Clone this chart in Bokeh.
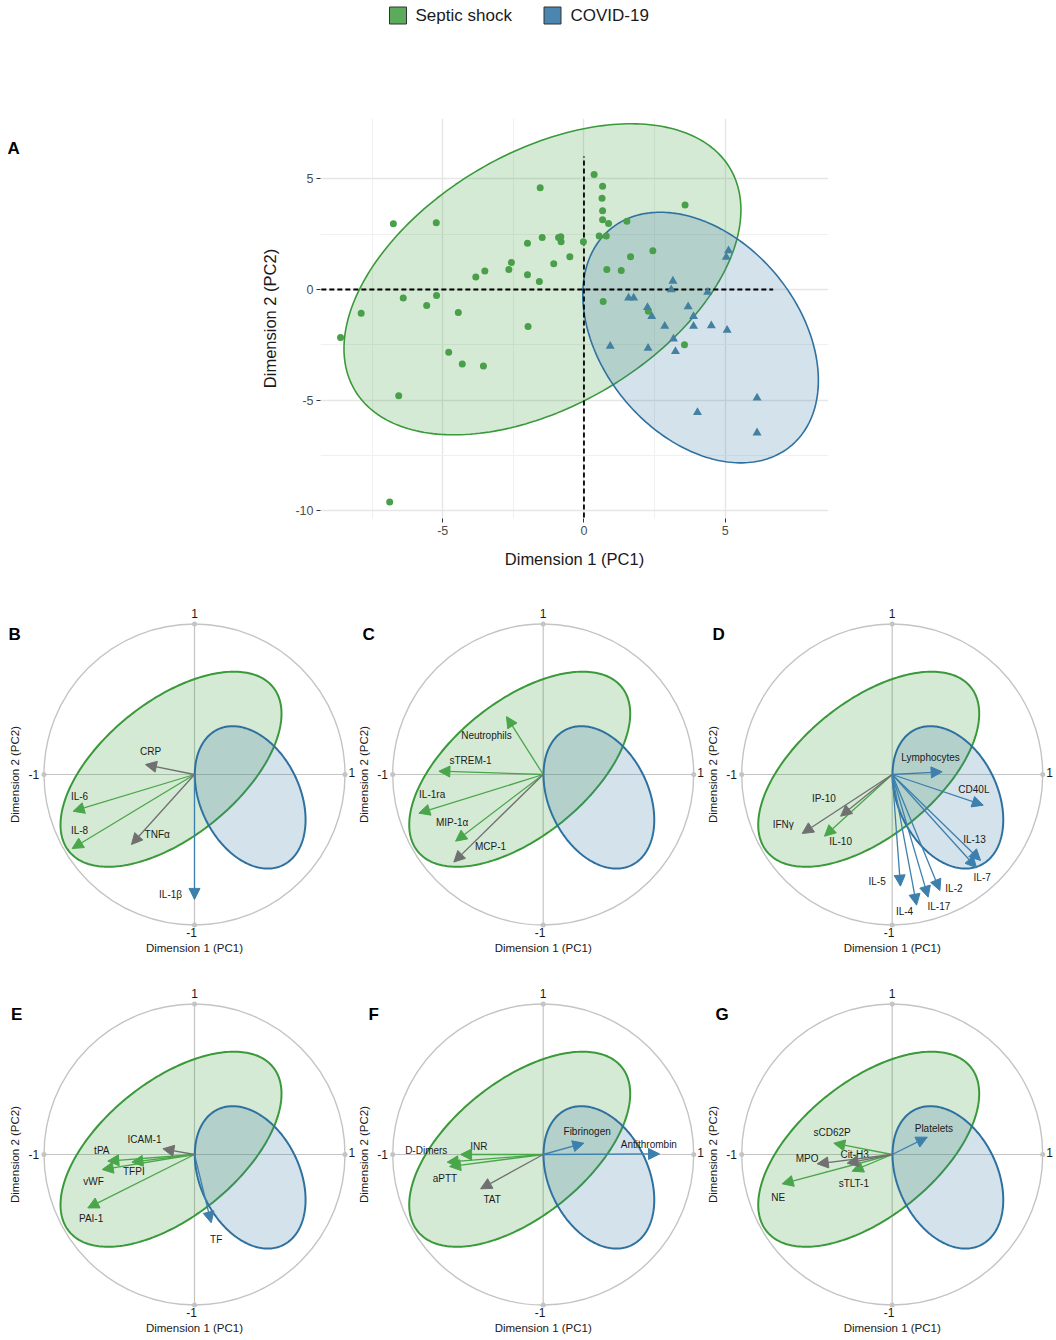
import numpy as np
from bokeh.plotting import figure
from bokeh.models import (Range1d, FixedTicker, ColumnDataSource, Arrow, NormalHead,
                          CustomJSTickFormatter)
from bokeh.layouts import column, row
from bokeh.embed import file_html
from bokeh.resources import INLINE
from bokeh.core.properties import value

FONT = "Liberation Sans"

# ---------------- Panel A: individuals on PC1/PC2 ----------------
septic_pc1 = [0.36, -1.55, 0.66, 0.64, 0.66, 0.66, 0.87, 1.52, 3.58, -6.75, -5.23, -2.0,
              -1.48, -0.9, -0.82, -0.81, -0.02, 0.54, 0.79, -2.57, -2.66, -3.51, -3.83,
              -2.0, -1.58, -1.07, -0.5, 1.65, 2.44, 0.81, 1.32, -6.4, -5.57, -5.22, -7.89,
              -4.45, -1.98, -8.62, -4.79, -4.31, -3.56, -6.56, -6.88, 0.68, 2.28, 3.56]
septic_pc2 = [5.19, 4.59, 4.66, 4.12, 3.55, 3.15, 2.98, 3.08, 3.82, 2.97, 3.01, 2.09,
              2.35, 2.35, 2.38, 2.15, 2.15, 2.42, 2.42, 1.22, 0.9, 0.83, 0.56,
              0.66, 0.36, 1.16, 1.48, 1.48, 1.75, 0.9, 0.86, -0.39, -0.72, -0.27, -1.07,
              -1.04, -1.67, -2.17, -2.83, -3.36, -3.45, -4.8, -9.6, -0.54, -0.98, -2.5]
covid_pc1 = [3.15, 3.09, 4.38, 5.12, 5.04, 1.58, 1.76, 2.25, 2.4, 3.69, 3.88, 2.86, 3.88,
             4.51, 5.07, 3.17, 0.93, 2.27, 3.24, 4.02, 6.13, 6.13]
covid_pc2 = [0.38, -0.01, -0.12, 1.75, 1.46, -0.38, -0.38, -0.81, -1.22, -0.78, -1.22,
             -1.66, -1.66, -1.63, -1.84, -2.23, -2.56, -2.65, -2.8, -5.55, -4.9, -6.47]

# concentration ellipses: centre and covariance (sxx, sxy, syy)
A_septic_ellipse = dict(center=(-1.47, 0.46), cov=(49.4, 22.0, 49.3))
A_covid_ellipse = dict(center=(4.13, -2.17), cov=(17.4, -8.05, 32.0))
A_x_ticks = [-5, 0, 5]
A_x_minor = [-7.5, -2.5, 2.5]
A_y_ticks = [-10, -5, 0, 5]
A_y_minor = [-7.5, -2.5, 2.5]
A_hline_x = (-9.3, 6.7)
A_vline_y = (-10.3, 6.0)

legend_labels = ["Septic shock", "COVID-19"]

# ---------------- Panels B-G: variable correlation circles ----------------
small_septic_ellipse = dict(center=(-0.156, 0.035), cov=(0.539, 0.271, 0.42))
small_covid_ellipse = dict(center=(0.37, -0.152), cov=(0.1354, -0.055, 0.2237))

B_vars = ["CRP", "IL-6", "IL-8", "TNFα", "IL-1β"]
B_pc1 = [-0.326, -0.806, -0.813, -0.419, 0.0]
B_pc2 = [0.066, -0.244, -0.492, -0.465, -0.83]
B_group = ["other", "septic", "septic", "other", "covid"]

C_vars = ["Neutrophils", "sTREM-1", "IL-1ra", "MIP-1α", "MCP-1"]
C_pc1 = [-0.244, -0.693, -0.826, -0.582, -0.594]
C_pc2 = [0.385, 0.022, -0.257, -0.443, -0.582]
C_group = ["septic", "septic", "septic", "septic", "other"]

D_vars = ["Lymphocytes", "CD40L", "IL-13", "IL-7", "IL-2", "IL-17", "IL-4", "IL-5",
          "IP-10", "IFNγ", "IL-10"]
D_pc1 = [0.332, 0.605, 0.587, 0.56, 0.317, 0.239, 0.162, 0.055, -0.343, -0.598, -0.45]
D_pc2 = [0.018, -0.204, -0.571, -0.62, -0.771, -0.815, -0.868, -0.742, -0.277, -0.392, -0.41]
D_group = ["covid"] * 8 + ["other", "other", "septic"]

E_vars = ["ICAM-1", "tPA", "vWF", "TFPI", "PAI-1", "TF"]
E_pc1 = [-0.21, -0.576, -0.613, -0.416, -0.709, 0.111]
E_pc2 = [0.038, -0.044, -0.1, -0.051, -0.355, -0.454]
E_group = ["other", "septic", "septic", "septic", "septic", "covid"]

F_vars = ["Fibrinogen", "Antithrombin", "INR", "D-Dimers", "aPTT", "TAT"]
F_pc1 = [0.27, 0.773, -0.549, -0.638, -0.622, -0.416]
F_pc2 = [0.075, 0.004, 0.0, -0.051, -0.08, -0.228]
F_group = ["covid", "covid", "septic", "septic", "septic", "other"]

G_vars = ["Platelets", "sCD62P", "MPO", "Cit-H3", "sTLT-1", "NE"]
G_pc1 = [0.233, -0.388, -0.498, -0.299, -0.266, -0.731]
G_pc2 = [0.115, 0.075, -0.062, -0.058, -0.111, -0.195]
G_group = ["covid", "septic", "other", "other", "septic", "septic"]

# label placement (layout, in circle units)
B_label_xy = [(-0.292, 0.151), (-0.764, -0.148), (-0.764, -0.37), (-0.248, -0.399), (-0.159, -0.797)]
C_label_xy = [(-0.377, 0.259), (-0.483, 0.093), (-0.738, -0.135), (-0.605, -0.317), (-0.35, -0.478)]
D_label_xy = [(0.255, 0.111), (0.543, -0.1), (0.547, -0.432), (0.598, -0.682), (0.41, -0.757),
              (0.31, -0.875), (0.082, -0.913), (-0.1, -0.709), (-0.454, -0.159), (-0.724, -0.332),
              (-0.343, -0.443)]
E_label_xy = [(-0.332, 0.097), (-0.616, 0.029), (-0.671, -0.182), (-0.403, -0.115), (-0.687, -0.425),
              (0.144, -0.565)]
F_label_xy = [(0.292, 0.155), (0.702, 0.066), (-0.427, 0.053), (-0.777, 0.027), (-0.653, -0.162),
              (-0.339, -0.301)]
G_label_xy = [(0.277, 0.171), (-0.399, 0.148), (-0.565, -0.024), (-0.25, 0.0), (-0.255, -0.19),
              (-0.757, -0.283)]

# ---------------- styles ----------------
GREEN_PT = "#4a9f4a"
BLUE_PT = "#44809f"
GREEN_LINE = "#3a993a"
BLUE_LINE = "#2e71a0"
GREEN_FILL = "#3f9f3f"
BLUE_FILL = "#3a7ca5"
FILL_ALPHA = 0.22
ARROW_COLORS = {"septic": "#4aa64a", "covid": "#3d80ad", "other": "#707070"}
LEG_COLORS = ["#5aac5a", "#4a86af"]
LEG_SQ_X = [397.5, 552]       # legend square centres (px)
LEG_TXT_X = [415, 570]        # legend text starts (px)
LEG_Y = 15

TOTAL_W = 1056


def ellipse_xy(spec, n=240):
    sxx, sxy, syy = spec["cov"]
    L = np.linalg.cholesky(np.array([[sxx, sxy], [sxy, syy]]))
    t = np.linspace(0, 2 * np.pi, n)
    pts = L @ np.vstack([np.cos(t), np.sin(t)])
    return spec["center"][0] + pts[0], spec["center"][1] + pts[1]


# ---------------- legend strip ----------------
leg = figure(width=TOTAL_W, height=30, x_range=Range1d(0, TOTAL_W), y_range=Range1d(30, 0),
             x_axis_type=None, y_axis_type=None, toolbar_location=None,
             output_backend="svg", min_border=0, outline_line_color=None)
leg.rect(x=LEG_SQ_X, y=[LEG_Y] * 2, width=17, height=17, fill_color=LEG_COLORS,
         line_color="#333333", line_width=1)
leg.text(x=LEG_TXT_X, y=[LEG_Y] * 2, text=legend_labels, text_font=value(FONT),
         text_font_size="17px", text_align="left", text_baseline="middle", text_color="#1a1a1a")

# ---------------- Panel A ----------------
A_H = 550
A_BT, A_BB = 88, 62          # borders above / below the plotting frame
A_FRAME_H = A_H - A_BT - A_BB

letterA = figure(width=250, height=A_H, x_range=Range1d(0, 250), y_range=Range1d(A_FRAME_H, 0),
                 x_axis_type=None, y_axis_type=None, toolbar_location=None,
                 output_backend="svg", min_border=0, min_border_top=A_BT, min_border_bottom=A_BB,
                 outline_line_color=None)
letterA.text(x=[7], y=[30], text=["A"], text_font=value(FONT), text_font_size="17px",
             text_font_style="bold", text_align="left", text_baseline="middle", text_color="black")

pA = figure(width=TOTAL_W - 250, height=A_H, x_range=Range1d(-9.33, 8.66), y_range=Range1d(-10.34, 7.72),
            min_border_left=70, min_border_right=228, min_border_top=A_BT, min_border_bottom=A_BB,
            toolbar_location=None, output_backend="svg", outline_line_color=None,
            x_axis_label="Dimension 1 (PC1)", y_axis_label="Dimension 2 (PC2)")
pA.xaxis.ticker = FixedTicker(ticks=A_x_ticks, minor_ticks=A_x_minor)
pA.yaxis.ticker = FixedTicker(ticks=A_y_ticks, minor_ticks=A_y_minor)
pA.axis.formatter = CustomJSTickFormatter(code="return tick.toString()")
pA.grid.grid_line_color = "#e6e6e6"
pA.grid.grid_line_width = 1.4
pA.grid.minor_grid_line_color = "#f0f0f0"
pA.grid.minor_grid_line_width = 1
pA.axis.axis_line_color = None
pA.axis.major_tick_line_color = "#333333"
pA.axis.major_tick_out = 4
pA.axis.major_tick_in = 0
pA.axis.minor_tick_line_color = None
pA.axis.major_label_text_font = FONT
pA.axis.major_label_text_font_size = "12.5px"
pA.axis.major_label_text_color = "#4d4d4d"
pA.axis.major_label_standoff = 3
pA.axis.axis_label_text_font = FONT
pA.axis.axis_label_text_font_style = "normal"
pA.axis.axis_label_text_font_size = "16.5px"
pA.axis.axis_label_text_color = "#1a1a1a"
pA.xaxis.axis_label_standoff = 12
pA.yaxis.axis_label_standoff = 13

gx, gy = ellipse_xy(A_septic_ellipse)
pA.patch(gx, gy, fill_color=GREEN_FILL, fill_alpha=FILL_ALPHA, line_color=GREEN_LINE, line_width=1.6)
bx, by = ellipse_xy(A_covid_ellipse)
pA.patch(bx, by, fill_color=BLUE_FILL, fill_alpha=FILL_ALPHA, line_color=BLUE_LINE, line_width=1.6)
pA.line(x=list(A_hline_x), y=[0, 0], line_color="black", line_width=1.8, line_dash="5 3")
pA.line(x=[0, 0], y=list(A_vline_y), line_color="black", line_width=1.8, line_dash="5 3")
pA.scatter(septic_pc1, septic_pc2, marker="circle", size=7, fill_color=GREEN_PT, line_color=None)
pA.scatter(covid_pc1, covid_pc2, marker="triangle", size=9, fill_color=BLUE_PT, line_color=None)

# ---------------- small panels ----------------
PX = 150.5          # pixels per unit of the correlation circle
CY = 194            # circle centre offset from figure top (px)
COL_W = [356, 350, 350]
COL_CX = [194, 186.7, 185.7]   # circle centre offset from each figure's left edge (px)
LETTER_X = {"B": -1.236, "C": -1.2, "D": -1.194, "E": -1.22, "F": -1.16, "G": -1.174}


def small_panel(letter, names, pc1, pc2, groups, label_xy, col, h):
    w, cx = COL_W[col], COL_CX[col]
    p = figure(width=w, height=h,
               x_range=Range1d(-cx / PX, (w - cx) / PX), y_range=Range1d(-(h - CY) / PX, CY / PX),
               x_axis_type=None, y_axis_type=None, toolbar_location=None, output_backend="svg",
               min_border=0, outline_line_color=None)
    p.circle(x=[0], y=[0], radius=1, fill_color=None, line_color="#c4c4c4", line_width=1.4)
    p.segment(x0=[-1, 0], y0=[0, -1], x1=[1, 0], y1=[0, 1], line_color="#c4c4c4", line_width=1.2)
    p.scatter(x=[-1, 1, 0, 0], y=[0, 0, -1, 1], size=5, fill_color="#c4c4c4", line_color=None)
    ex, ey = ellipse_xy(small_septic_ellipse)
    p.patch(ex, ey, fill_color=GREEN_FILL, fill_alpha=FILL_ALPHA, line_color=GREEN_LINE, line_width=2)
    ex, ey = ellipse_xy(small_covid_ellipse)
    p.patch(ex, ey, fill_color=BLUE_FILL, fill_alpha=FILL_ALPHA, line_color=BLUE_LINE, line_width=2)
    for g, c in ARROW_COLORS.items():
        idx = [i for i, gg in enumerate(groups) if gg == g]
        if not idx:
            continue
        src = ColumnDataSource(dict(x0=[0.0] * len(idx), y0=[0.0] * len(idx),
                                    x1=[pc1[i] for i in idx], y1=[pc2[i] for i in idx]))
        p.add_layout(Arrow(x_start="x0", y_start="y0", x_end="x1", y_end="y1", source=src,
                           line_color=c, line_width=1.3,
                           end=NormalHead(size=11, fill_color=c, line_color=c, line_width=1)))
    p.text(x=[xy[0] for xy in label_xy], y=[xy[1] for xy in label_xy], text=names,
           text_font=value(FONT), text_font_size="10px", text_align="center",
           text_baseline="middle", text_color="#1a1a1a")
    # circle end labels
    p.text(x=[0, -0.02, -1.068, 1.045], y=[1.072, -1.05, 0, 0.01], text=["1", "-1", "-1", "1"],
           text_font=value(FONT), text_font_size="12px", text_align="center",
           text_baseline="middle", text_color="#1a1a1a")
    p.text(x=[0], y=[-1.152], text=["Dimension 1 (PC1)"], text_font=value(FONT),
           text_font_size="11.5px", text_align="center", text_baseline="middle", text_color="#1a1a1a")
    p.text(x=[-1.19], y=[0], text=["Dimension 2 (PC2)"], angle=np.pi / 2, text_font=value(FONT),
           text_font_size="11.5px", text_align="center", text_baseline="middle", text_color="#1a1a1a")
    p.text(x=[max(LETTER_X[letter], -cx / PX + 0.01)], y=[0.93], text=[letter], text_font=value(FONT),
           text_font_size="17px", text_font_style="bold", text_align="left", text_baseline="middle",
           text_color="black")
    return p


H1, H2 = 380, 376
pB = small_panel("B", B_vars, B_pc1, B_pc2, B_group, B_label_xy, 0, H1)
pC = small_panel("C", C_vars, C_pc1, C_pc2, C_group, C_label_xy, 1, H1)
pD = small_panel("D", D_vars, D_pc1, D_pc2, D_group, D_label_xy, 2, H1)
pE = small_panel("E", E_vars, E_pc1, E_pc2, E_group, E_label_xy, 0, H2)
pF = small_panel("F", F_vars, F_pc1, F_pc2, F_group, F_label_xy, 1, H2)
pG = small_panel("G", G_vars, G_pc1, G_pc2, G_group, G_label_xy, 2, H2)

layout = column(leg, row(letterA, pA), row(pB, pC, pD), row(pE, pF, pG))
open("out.html", "w").write(file_html(layout, INLINE))
